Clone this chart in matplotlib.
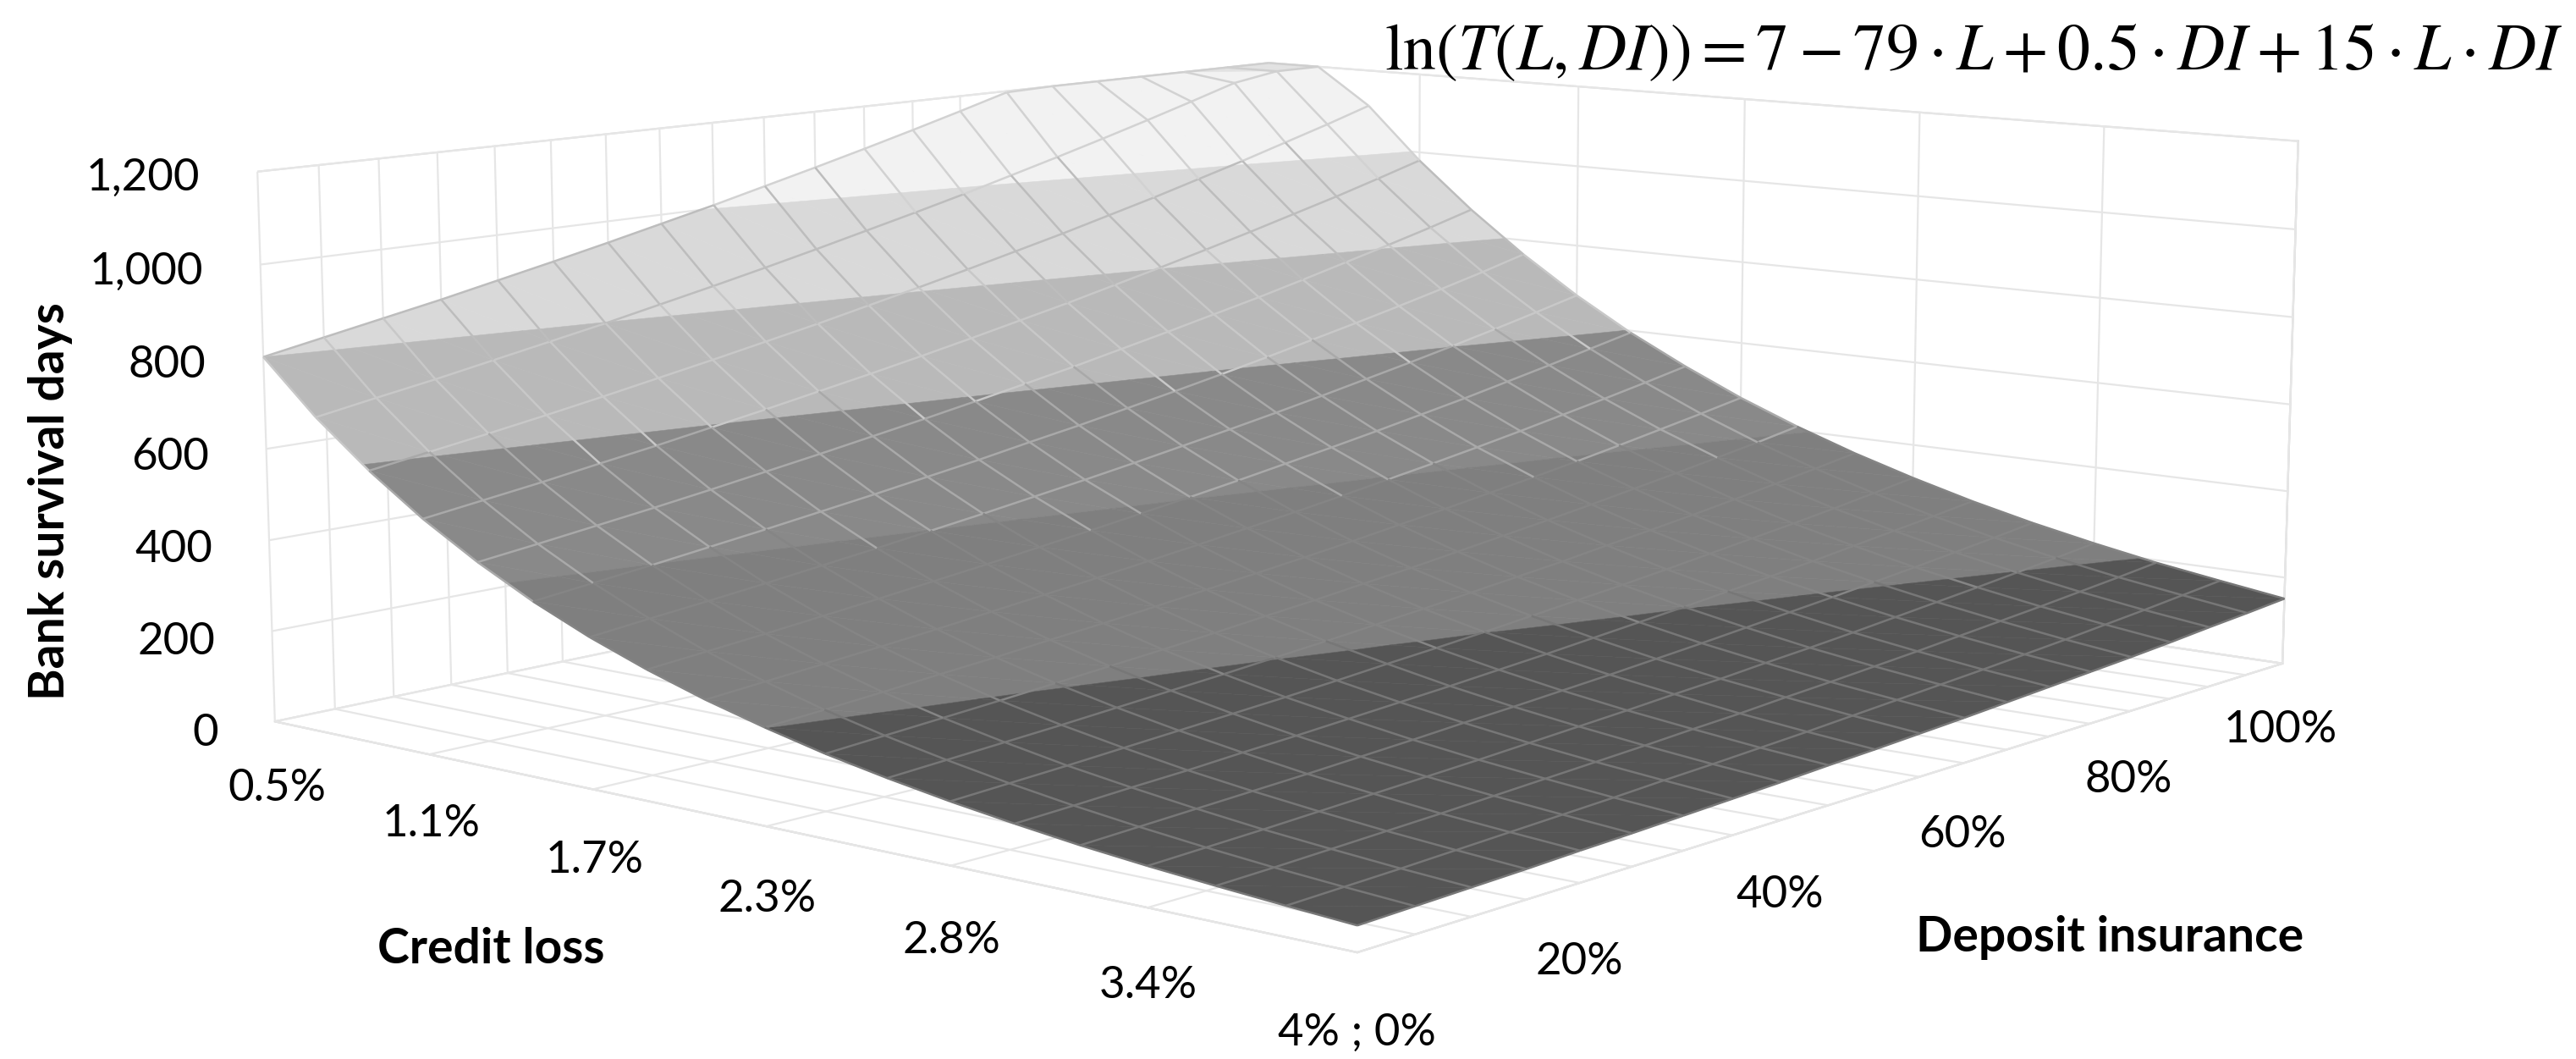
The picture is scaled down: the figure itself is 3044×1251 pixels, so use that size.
import numpy as np
import matplotlib
matplotlib.use("Agg")
import matplotlib.pyplot as plt
from mpl_toolkits.mplot3d.art3d import Poly3DCollection, Line3DCollection

plt.rcParams['font.family'] = ['Lato', 'DejaVu Sans']
plt.rcParams['mathtext.fontset'] = 'stix'

# credit loss categories (%), deposit insurance series (%)
credit_loss = [0.5, 0.694, 0.889, 1.083, 1.278, 1.472, 1.667, 1.861, 2.056, 2.25,
               2.444, 2.639, 2.833, 3.028, 3.222, 3.417, 3.611, 3.806, 4.0]
deposit_insurance = [0, 5, 10, 15, 20, 25, 30, 35, 40, 45, 50,
                     55, 60, 65, 70, 75, 80, 85, 90, 95, 100]

# bank survival days, one row per credit loss, one column per deposit insurance
survival_days = np.array([
    [800, 824, 848, 872, 898, 924, 951, 979, 1007, 1037, 1067, 1098, 1130, 1163, 1197, 1232, 1268, 1305, 1343, 1382, 1422],
    [686, 708, 729, 752, 775, 798, 823, 848, 874, 901, 929, 957, 986, 1017, 1048, 1080, 1113, 1147, 1182, 1219, 1256],
    [589, 608, 627, 647, 668, 690, 712, 735, 758, 783, 808, 834, 861, 888, 917, 946, 977, 1008, 1041, 1074, 1109],
    [505, 522, 539, 558, 576, 596, 616, 637, 658, 680, 703, 727, 751, 777, 803, 830, 858, 887, 916, 947, 979],
    [433, 448, 464, 480, 497, 515, 533, 552, 571, 591, 612, 633, 656, 679, 703, 727, 753, 780, 807, 835, 865],
    [371, 385, 399, 414, 429, 445, 461, 478, 495, 514, 532, 552, 572, 593, 615, 638, 661, 685, 710, 736, 764],
    [318, 331, 343, 356, 370, 384, 399, 414, 430, 446, 463, 481, 499, 518, 538, 559, 580, 602, 625, 649, 674],
    [273, 284, 295, 307, 319, 332, 345, 359, 373, 388, 403, 419, 436, 453, 471, 490, 509, 530, 551, 573, 595],
    [234, 244, 254, 264, 275, 287, 299, 311, 324, 337, 351, 365, 380, 396, 412, 429, 447, 466, 485, 505, 526],
    [201, 209, 218, 228, 237, 248, 258, 269, 281, 293, 305, 318, 332, 346, 361, 376, 392, 409, 427, 445, 464],
    [172, 180, 188, 196, 205, 214, 223, 233, 244, 254, 266, 277, 290, 303, 316, 330, 345, 360, 376, 392, 410],
    [148, 155, 162, 169, 177, 185, 193, 202, 211, 221, 231, 242, 253, 264, 277, 289, 302, 316, 331, 346, 362],
    [127, 133, 139, 146, 153, 160, 167, 175, 184, 192, 201, 211, 221, 231, 242, 254, 266, 278, 291, 305, 320],
    [109, 114, 120, 125, 132, 138, 145, 152, 159, 167, 175, 184, 193, 202, 212, 222, 233, 245, 257, 269, 282],
    [93, 98, 103, 108, 113, 119, 125, 132, 138, 145, 152, 160, 168, 177, 186, 195, 205, 215, 226, 237, 249],
    [80, 84, 88, 93, 98, 103, 108, 114, 120, 126, 133, 139, 147, 154, 162, 171, 180, 189, 199, 209, 220],
    [69, 72, 76, 80, 84, 89, 94, 99, 104, 110, 115, 122, 128, 135, 142, 150, 158, 166, 175, 184, 194],
    [59, 62, 65, 69, 73, 77, 81, 86, 90, 95, 100, 106, 112, 118, 124, 131, 138, 146, 154, 163, 172],
    [50, 53, 56, 59, 63, 66, 70, 74, 78, 83, 87, 92, 97, 103, 109, 115, 121, 128, 136, 143, 151],
])

cl_ticks = [0.5, 1.083, 1.667, 2.25, 2.833, 3.417, 4.0]
cl_labels = ['0.5%', '1.1%', '1.7%', '2.3%', '2.8%', '3.4%', '4% ; 0%']
di_ticks = [20, 40, 60, 80, 100]
di_labels = ['20%', '40%', '60%', '80%', '100%']
z_ticks = [0, 200, 400, 600, 800, 1000, 1200]
z_labels = ['0', '200', '400', '600', '800', '1,000', '1,200']

# value bands of the surface (Excel style grey scale)
band_edges = [0, 200, 400, 600, 800, 1000, 1199.5, 1201]
band_faces = ['#555555', '#7f7f7f', '#898989', '#b9b9b9', '#d9d9d9', '#f2f2f2', '#e2e2e2']
band_lines = ['#777777', '#858585', '#a9a9a9', '#c8c8c8', '#bdbdbd', '#d2d2d2', '#cfcfcf']

ZMAX = 1200
X0, X1 = credit_loss[0], credit_loss[-1]
Y0, Y1 = deposit_insurance[0], deposit_insurance[-1]
X, Y = np.meshgrid(credit_loss, deposit_insurance, indexing='ij')
Z = np.minimum(survival_days, ZMAX).astype(float)


def clip_half(poly, val, above):
    out = []
    n = len(poly)
    for k in range(n):
        a, b = poly[k], poly[(k + 1) % n]
        ina = a[2] >= val if above else a[2] <= val
        inb = b[2] >= val if above else b[2] <= val
        if ina:
            out.append(a)
        if ina != inb:
            t = (val - a[2]) / (b[2] - a[2])
            out.append(tuple(a[m] + t * (b[m] - a[m]) for m in range(3)))
    return out


polys, faces = [], []
nr, nc = Z.shape
for i in range(nr - 1):
    for j in range(nc - 1):
        p00 = (X[i, j], Y[i, j], Z[i, j])
        p10 = (X[i + 1, j], Y[i + 1, j], Z[i + 1, j])
        p11 = (X[i + 1, j + 1], Y[i + 1, j + 1], Z[i + 1, j + 1])
        p01 = (X[i, j + 1], Y[i, j + 1], Z[i, j + 1])
        for tri in ((p00, p10, p11), (p00, p11, p01)):
            for b in range(len(band_faces)):
                pg = clip_half(list(tri), band_edges[b], True)
                if len(pg) >= 3:
                    pg = clip_half(pg, band_edges[b + 1], False)
                if len(pg) >= 3:
                    polys.append(pg)
                    faces.append(band_faces[b])

segs, seg_cols = [], []


def band_of(z):
    for b in range(len(band_faces)):
        if z < band_edges[b + 1]:
            return b
    return len(band_faces) - 1


for i in range(nr):
    for j in range(nc - 1):
        segs.append([(X[i, j], Y[i, j], Z[i, j]), (X[i, j + 1], Y[i, j + 1], Z[i, j + 1])])
        seg_cols.append(band_lines[band_of((Z[i, j] + Z[i, j + 1]) / 2)])
for j in range(nc):
    for i in range(nr - 1):
        segs.append([(X[i, j], Y[i, j], Z[i, j]), (X[i + 1, j], Y[i + 1, j], Z[i + 1, j])])
        seg_cols.append(band_lines[band_of((Z[i, j] + Z[i + 1, j]) / 2)])

# wall and floor gridlines
grid_segs = []
for t in cl_ticks:
    grid_segs.append([(t, Y0, 0), (t, Y1, 0)])
    grid_segs.append([(t, Y1, 0), (t, Y1, ZMAX)])
for d in deposit_insurance:
    grid_segs.append([(X0, d, 0), (X1, d, 0)])
    grid_segs.append([(X0, d, 0), (X0, d, ZMAX)])
for z in z_ticks:
    grid_segs.append([(X0, Y0, z), (X0, Y1, z)])
    grid_segs.append([(X0, Y1, z), (X1, Y1, z)])

W, H = 3044, 1251
fig = plt.figure(figsize=(W / 100, H / 100), dpi=100)
S = 2900
cx, cy = 1482, 725
rect = [(cx - S / 2) / W, (cy - S / 2) / H, S / W, S / H]
ax = fig.add_axes(rect, projection='3d', computed_zorder=False)
ax.set_xlim(X0, X1)
ax.set_ylim(Y0, Y1)
ax.set_zlim(0, ZMAX)
ax.apply_aspect()

# camera fit: where the box corners sit in the reference picture (px, from top)
box_corners = np.array([[X0, Y0, 0], [X1, Y0, 0], [X1, Y1, 0],
                        [X0, Y0, ZMAX], [X1, Y1, ZMAX], [X0, Y1, ZMAX]], float)
corner_px = np.array([[327, 853], [1603, 1125], [2697, 783],
                      [303, 203], [2717, 166], [1498, 75]], float)
corner_px[:, 1] = H - corner_px[:, 1]
hom = np.column_stack([box_corners, np.ones(len(box_corners))]).T


def set_view(p):
    elev, azim, f, ry, rz, zoom = p
    ax.view_init(elev=elev, azim=azim)
    ax.set_proj_type('persp', focal_length=f)
    ax.set_box_aspect((1.0, ry, rz), zoom=zoom)


def project(p):
    set_view(p)
    w = ax.get_proj() @ hom
    return ax.transData.transform(np.column_stack([w[0] / w[3], w[1] / w[3]]))


def cost(p):
    elev, azim, f, ry, rz, zoom = p
    if not (0 < elev < 40 and -85 < azim < -15 and 0.08 < f < 6
            and 0.4 < ry < 2.5 and 0.1 < rz < 1.2 and 0.2 < zoom < 2.5):
        return 1e12
    pts = project(p)
    off = (corner_px - pts).mean(axis=0)
    return float(((corner_px - pts - off) ** 2).sum())


def nelder_mead(fun, x0, step, iters=1500):
    n = len(x0)
    pts = [np.array(x0, float)]
    for k in range(n):
        q = np.array(x0, float)
        q[k] += step[k]
        pts.append(q)
    vals = [fun(q) for q in pts]
    for _ in range(iters):
        order = np.argsort(vals)
        pts = [pts[i] for i in order]
        vals = [vals[i] for i in order]
        c = np.mean(pts[:-1], axis=0)
        xr = c + (c - pts[-1])
        fr = fun(xr)
        if fr < vals[0]:
            xe = c + 2 * (c - pts[-1])
            fe = fun(xe)
            pts[-1], vals[-1] = (xe, fe) if fe < fr else (xr, fr)
        elif fr < vals[-2]:
            pts[-1], vals[-1] = xr, fr
        else:
            xc = c + 0.5 * (pts[-1] - c)
            fc = fun(xc)
            if fc < vals[-1]:
                pts[-1], vals[-1] = xc, fc
            else:
                for k in range(1, n + 1):
                    pts[k] = pts[0] + 0.5 * (pts[k] - pts[0])
                    vals[k] = fun(pts[k])
    return pts[int(np.argmin(vals))]


best = nelder_mead(cost, [10.0, -50.5, 0.6, 1.05, 0.40, 0.83],
                   [2.0, 3.0, 0.15, 0.08, 0.04, 0.05])
best = nelder_mead(cost, best, [0.5, 0.8, 0.05, 0.02, 0.01, 0.01])
shift = (corner_px - project(best)).mean(axis=0)
set_view(best)
ax.set_position([rect[0] + shift[0] / W, rect[1] + shift[1] / H, rect[2], rect[3]])

ax.add_collection3d(Line3DCollection(grid_segs, colors='#e6e6e6', linewidths=1.6, zorder=1))
surf = Poly3DCollection(polys, facecolors=faces, edgecolors=faces, linewidths=0.4, zorder=2)
ax.add_collection3d(surf)
mesh = Line3DCollection(segs, colors=seg_cols, linewidths=1.8, zorder=3)
ax.add_collection3d(mesh)

ax.set_xlim(X0, X1)
ax.set_ylim(Y0, Y1)
ax.set_zlim(0, ZMAX)
ax.grid(False)
ax.set_xticks([])
ax.set_yticks([])
ax.set_zticks([])

for axis in (ax.xaxis, ax.yaxis, ax.zaxis):
    axis.set_pane_color((1, 1, 1, 1))
    axis.pane.set_edgecolor('#dddddd')
    axis.pane.set_linewidth(1.6)
    axis.line.set_color('#dddddd')
    axis.line.set_linewidth(1.6)

# tick labels, Excel places them just outside the floor edges
for t, lab in zip(cl_ticks, cl_labels):
    ax.text(t, Y0, -150, lab, ha='center', va='center', fontsize=38, zorder=6)
for d, lab in zip(di_ticks, di_labels):
    ax.text(X1, d, -155, lab, ha='center', va='center', fontsize=38, zorder=6)
for z, lab in zip(z_ticks, z_labels):
    ax.text(X0, Y0 - 4.6, z, lab, ha='right', va='center', fontsize=38, zorder=6)

fig.text(60 / W, 1 - 592 / H, 'Bank survival days', rotation=90, ha='center', va='center',
         fontsize=41, fontweight='bold')
fig.text(580 / W, 1 - 1121 / H, 'Credit loss', ha='center', va='center',
         fontsize=41, fontweight='bold')
fig.text(2493 / W, 1 - 1107 / H, 'Deposit insurance', ha='center', va='center',
         fontsize=41, fontweight='bold')
fig.text(2332 / W, 1 - 62 / H,
         r'$\ln\!\left(T(L,DI)\right)=7-79\cdot L+0.5\cdot DI+15\cdot L\cdot DI$',
         ha='center', va='center', fontsize=56)

fig.savefig('out.png', dpi=100)
